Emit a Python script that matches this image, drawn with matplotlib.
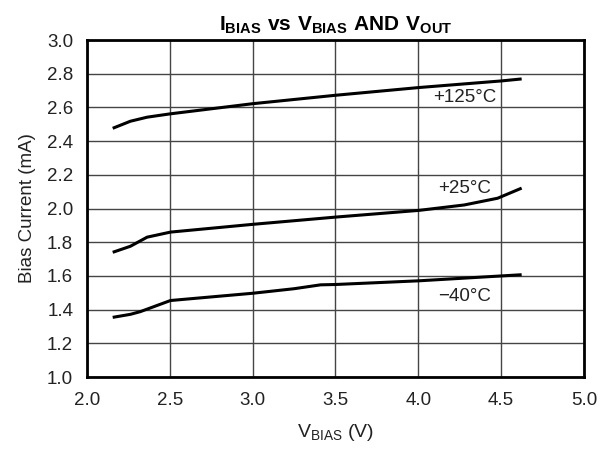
import matplotlib
matplotlib.use("Agg")
import matplotlib.pyplot as plt

plt.rcParams["font.family"] = ["Liberation Sans", "DejaVu Sans"]
plt.rcParams["mathtext.fontset"] = "custom"
plt.rcParams["mathtext.rm"] = "Liberation Sans"
plt.rcParams["mathtext.bf"] = "Liberation Sans:bold"

# curvas
v_125 = [2.155, 2.262, 2.363, 2.504, 3.0, 3.5, 4.005, 4.5, 4.624]
i_125 = [2.476, 2.518, 2.542, 2.562, 2.622, 2.672, 2.718, 2.757, 2.769]

v_25 = [2.155, 2.262, 2.363, 2.504, 3.0, 3.5, 4.005, 4.277, 4.479, 4.624]
i_25 = [1.740, 1.776, 1.830, 1.860, 1.906, 1.949, 1.989, 2.021, 2.061, 2.121]

v_m40 = [2.155, 2.262, 2.322, 2.504, 3.0, 3.25, 3.41, 3.5, 4.005, 4.624]
i_m40 = [1.354, 1.372, 1.388, 1.454, 1.497, 1.524, 1.547, 1.549, 1.571, 1.607]

rotulos = ["+125°C", "+25°C", "\u221240°C"]
pos_rotulos = [(4.28, 2.66), (4.28, 2.12), (4.28, 1.48)]

x_ticks = [2.0, 2.5, 3.0, 3.5, 4.0, 4.5, 5.0]
y_ticks = [1.0, 1.2, 1.4, 1.6, 1.8, 2.0, 2.2, 2.4, 2.6, 2.8, 3.0]

fig = plt.figure(figsize=(6.06, 4.5), dpi=100)
ax = fig.add_axes([0.1436, 0.1622, 0.82, 0.7489])

for v, i in [(v_125, i_125), (v_25, i_25), (v_m40, i_m40)]:
    ax.plot(v, i, color="black", linewidth=2.2, solid_capstyle="butt")

for texto, (x, y) in zip(rotulos, pos_rotulos):
    ax.text(x, y, texto, fontsize=13.5, ha="center", va="center", color="#222222")

ax.set_xlim(2.0, 5.0)
ax.set_ylim(1.0, 3.0)
ax.set_xticks(x_ticks)
ax.set_yticks(y_ticks)
ax.set_xticklabels([f"{t:.1f}" for t in x_ticks])
ax.set_yticklabels([f"{t:.1f}" for t in y_ticks])
ax.tick_params(length=0, labelsize=13.5, labelcolor="#222222")
ax.tick_params(axis="x", pad=11)
ax.tick_params(axis="y", pad=10)
ax.grid(True, color="#444444", linewidth=1.0)
for s in ax.spines.values():
    s.set_linewidth(2.0)

ax.set_title(r"$\mathbf{I_{BIAS}\ vs\ V_{BIAS}\ AND\ V_{OUT}}$", fontsize=15, pad=7)
ax.set_xlabel(r"$\mathrm{V_{BIAS}}$ (V)", fontsize=14, labelpad=9, color="#222222")
ax.set_ylabel("Bias Current (mA)", fontsize=13.5, labelpad=8, color="#222222")

fig.savefig("out.png", dpi=100)
